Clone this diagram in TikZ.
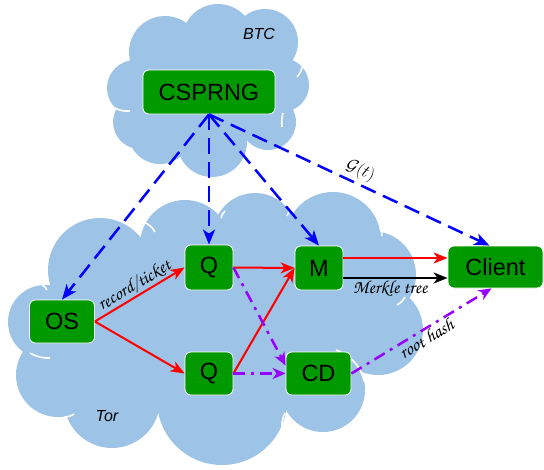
\documentclass[tikz,border=0pt]{standalone}
\usepackage{fontspec}
\setmainfont{Liberation Sans}
\usetikzlibrary{arrows.meta,calc}
\definecolor{cloudblue}{RGB}{157,195,230}
\definecolor{boxgreen}{RGB}{0,153,0}
\definecolor{violetline}{RGB}{153,0,255}
\newcommand{\chanc}{\fontencoding{OT1}\fontfamily{pzc}\fontseries{mb}\fontshape{it}\selectfont}
\begin{document}
\begin{tikzpicture}[x=1pt,y=-1pt,
  box/.style={draw=white, line width=0.8pt, fill=boxgreen, rounded corners=6pt,
    font=\fontsize{23.5}{28}\selectfont, inner sep=0pt},
  cloudline/.style={draw=white, line width=1.6pt},
  cloudlabel/.style={font=\fontsize{16}{19}\selectfont\itshape},
  seedarrow/.style={draw=blue, line width=2.5pt, dash pattern=on 16pt off 8pt,
    -{Stealth[length=15pt,width=12pt,inset=4pt]}},
  flowarrow/.style={draw=red, line width=2pt,
    -{Stealth[length=14pt,width=11pt,inset=4pt]}},
  treearrow/.style={draw=black, line width=2pt,
    -{Stealth[length=14pt,width=11pt,inset=4pt]}},
  hasharrow/.style={draw=violetline, line width=2.5pt, dash pattern=on 12pt off 6pt on 3pt off 6pt,
    -{Stealth[length=13pt,width=11pt,inset=4pt]}},
  edgelabel/.style={font=\fontsize{18.5}{20}\chanc, inner sep=1pt},
]
\useasboundingbox (0,0) rectangle (544,469);

% ---- Tor cloud ----
\fill[cloudblue] (45,322) -- (100,270) -- (185,245) -- (255,235) -- (333,240) -- (372,275)
  -- (378,330) -- (323,390) -- (222,400) -- (112,400) -- (58,375) -- cycle;
\foreach \cx/\cy/\r in {45/322/37, 100/270/52, 185/245/45, 255/235/42, 333/240/48,
  372/275/44, 378/330/45, 323/390/42, 222/400/65, 112/400/48, 58/375/42}
  \fill[cloudblue] (\cx,\cy) circle[radius=\r pt];
% ---- BTC cloud ----
\fill[cloudblue] (165,52) -- (218,40) -- (265,42) -- (282,85) -- (268,122) -- (212,142)
  -- (160,132) -- (140,122) -- (135,88) -- cycle;
\foreach \cx/\cy/\r in {165/52/36, 218/40/36, 265/42/33, 282/85/27, 268/122/28,
  212/142/35, 160/132/32, 135/88/28, 140/122/27}
  \fill[cloudblue] (\cx,\cy) circle[radius=\r pt];

% white inner arcs of the clouds
\draw[cloudline] (42,285) to[bend left=20] (47,290);
\draw[cloudline] (143,222) to[bend left=20] (155,232);
\draw[cloudline] (30,353) to[bend right=15] (50,358);
\draw[cloudline] (65,417) to[bend right=15] (74,414);
\draw[cloudline] (160,430) to[bend left=15] (166,443);
\draw[cloudline] (285,413) to[bend right=15] (282,428);
\draw[cloudline] plot[domain=-72:-12,samples=20] ({323+42*cos(\x)},{390+42*sin(\x)});
\draw[cloudline] (397,305) to[bend right=15] (405,297);
\draw[cloudline] (380,228) to[bend left=15] (382,236);
\draw[cloudline] (287,216) to[bend left=15] (292,208);
\draw[cloudline] (221,218) to[bend left=15] (225,211);
\draw[cloudline] (115,108) to[bend right=15] (130,111);
\draw[cloudline] (297,77) to[bend right=15] (302,67);
\draw[cloudline] (282,127) to[bend left=10] (283,113);

\node[cloudlabel] (btc) at (259,34) {BTC};
\node[cloudlabel] (tor) at (107,416) {Tor};

% ---- nodes ----
\node[box, minimum width=132pt, minimum height=44pt] (csprng) at (209,92) {CSPRNG};
\node[box, minimum width=65pt, minimum height=43pt] (os) at (62,321.5) {OS};
\node[box, minimum width=48pt, minimum height=45pt] (q1) at (209,267.5) {Q};
\node[box, minimum width=48pt, minimum height=43pt] (q2) at (209,373.5) {Q};
\node[box, minimum width=48pt, minimum height=44pt] (m) at (319,268) {M};
\node[box, minimum width=65pt, minimum height=43pt] (cd) at (318.5,373.5) {CD};
\node[box, minimum width=95pt, minimum height=42pt] (client) at (495.5,267) {Client};

% ---- connectors ----
\coordinate (src) at (csprng.south);
\coordinate (clientin) at ([xshift=-6pt]client.north);
\draw[seedarrow] (src) -- (os.north);
\draw[seedarrow] (src) -- (q1.north);
\draw[seedarrow] (src) -- (m.north);
\draw[seedarrow] (src) -- node[pos=0.52, sloped, above, inner sep=3pt,
  font=\fontsize{16}{18}\selectfont] (glabel) {$\mathcal{G}(t)$} (clientin);

\draw[flowarrow] (os.east) -- node[pos=0.5, sloped, above, edgelabel] (reclabel) {record/ticket} (q1.west);
\draw[flowarrow] (os.east) -- (q2.west);
\draw[flowarrow] (q1.east) -- (m.west);
\draw[flowarrow] (q2.east) -- (m.west);

\coordinate (mtop) at ([yshift=10pt]m.east);
\coordinate (mbot) at ([yshift=-10pt]m.east);
\draw[flowarrow] (mtop) -- (mtop -| client.west);
\draw[treearrow] (mbot) -- node[pos=0.45, below, edgelabel] (mlabel) {Merkle tree} (mbot -| client.west);

\coordinate (cdin) at ([yshift=8pt]cd.west);
\coordinate (clientbot) at ([xshift=-4pt]client.south);
\draw[hasharrow] (q1.east) -- (cdin);
\draw[hasharrow] (q2.east) -- (cd.west);
\draw[hasharrow] (cd.east) -- node[pos=0.5, sloped, below, edgelabel] (rlabel) {root hash} (clientbot);
\end{tikzpicture}
\end{document}
